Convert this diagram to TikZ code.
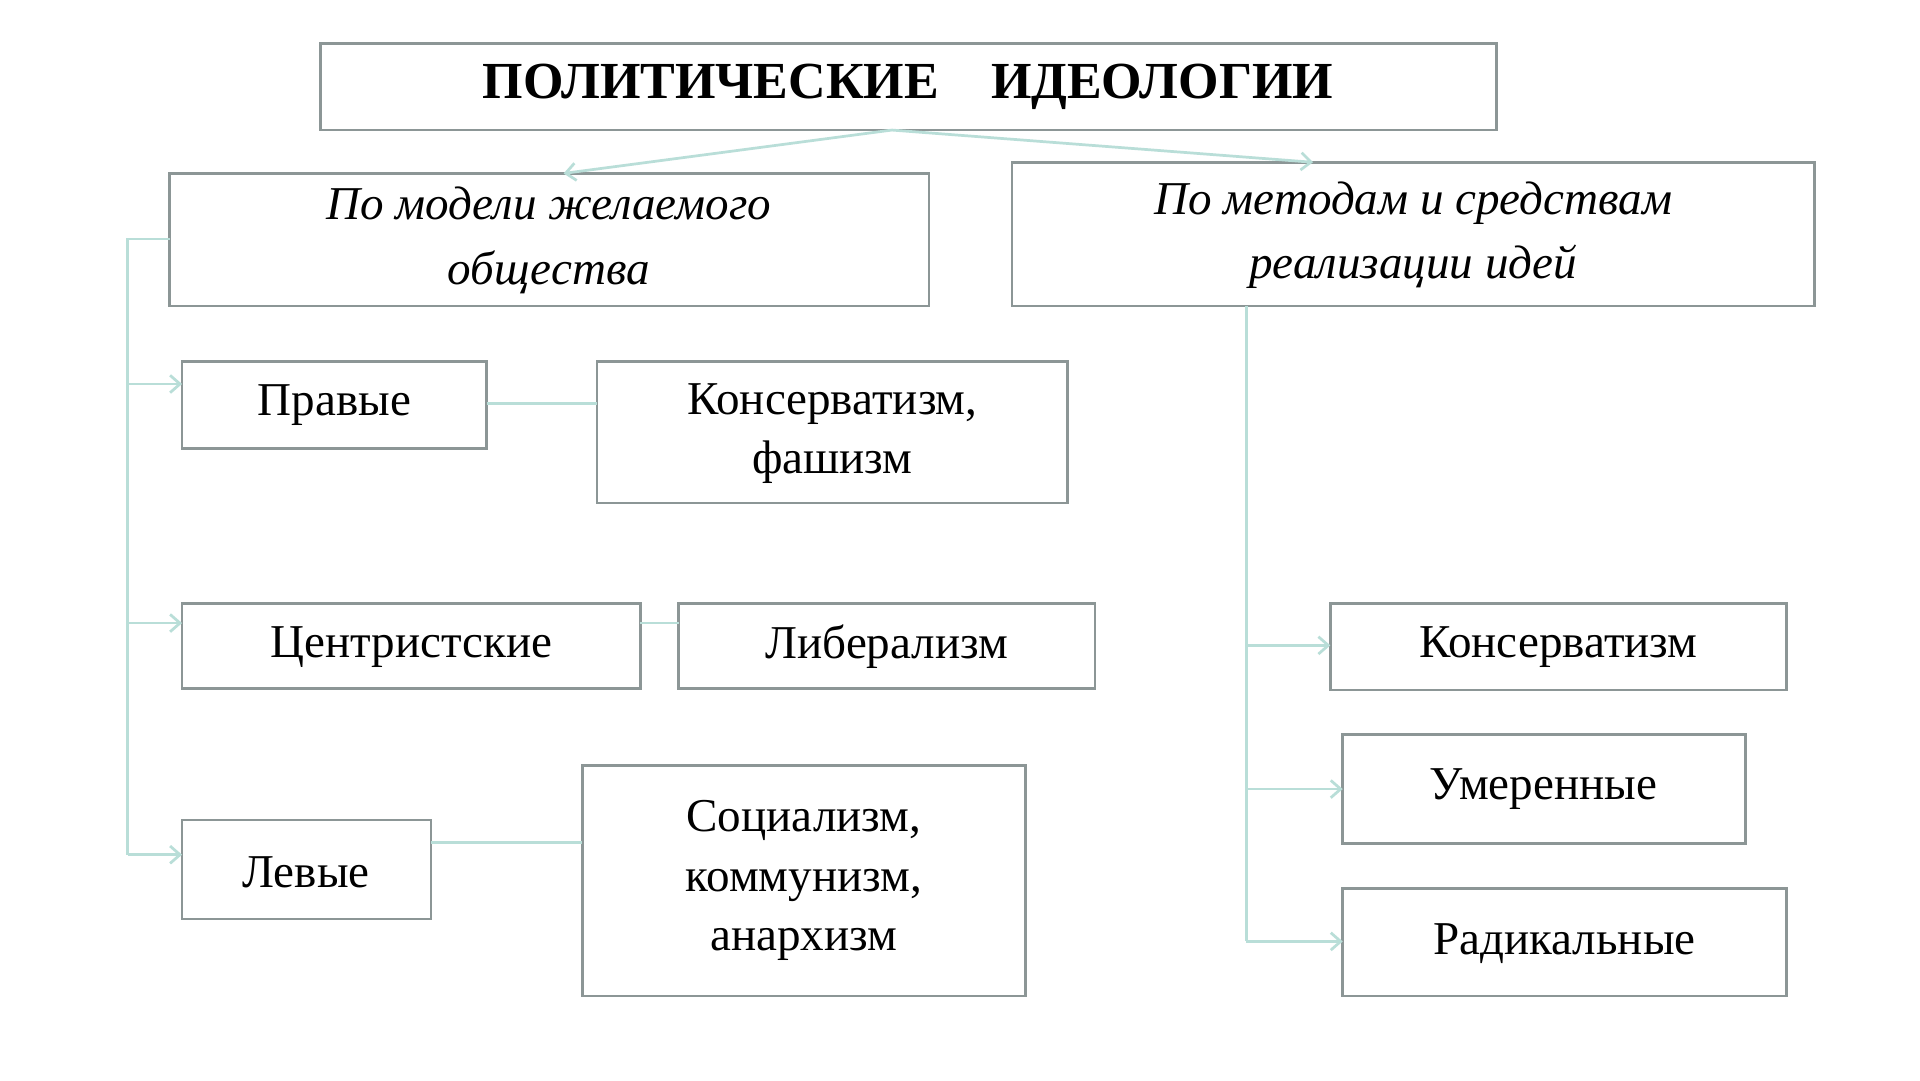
\documentclass[tikz,border=0pt]{standalone}
\usepackage{fontspec}
\setmainfont{Liberation Serif}
\usetikzlibrary{arrows.meta}
\definecolor{bx}{RGB}{140,150,150}
\definecolor{ln}{RGB}{185,222,216}
\begin{document}
\begin{tikzpicture}[x=1pt,y=-1pt,
  box/.style={draw=bx,line width=2.2pt},
  tx/.style={font=\fontsize{38}{48}\selectfont,align=center},
  conn/.style={draw=ln,line width=2.2pt},
  arr/.style={conn,-{Straight Barb[length=8pt,width=14pt]}}]
\useasboundingbox (0,0) rectangle (1550,872);
\fill[white] (0,0) rectangle (1550,872);
% boxes
\draw[box] (259,35) rectangle (1208,105); \node[tx,font=\bfseries\fontsize{42}{48}\selectfont] (t) at (733,70) {ПОЛИТИЧЕСКИЕ\quad ИДЕОЛОГИИ};
\coordinate (tb) at (720,105);
\draw[box] (137,140) rectangle (750,247); \node[tx,font=\itshape\fontsize{38}{52}\selectfont] (l) at (443,194) {По модели желаемого\\общества};
\draw[box] (817,131) rectangle (1465,247); \node[tx,font=\itshape\fontsize{38}{52}\selectfont] (r) at (1141,190) {По методам и средствам\\реализации идей};
\draw[box] (147,292) rectangle (393,362); \node[tx] (p) at (270,327) {Правые};
\draw[box] (482,292) rectangle (862,406); \node[tx] (pk) at (672,350) {Консерватизм,\\фашизм};
\draw[box] (147,487) rectangle (517,556); \node[tx] (c) at (332,522) {Центристские};
\draw[box] (548,487) rectangle (884,556); \node[tx] (cl) at (716,522) {Либерализм};
\draw[box] (147,662) rectangle (348,742); \node[tx] (lv) at (247,704) {Левые};
\draw[box] (470,618) rectangle (828,804); \node[tx] (ls) at (649,711) {Социализм,\\коммунизм,\\анархизм};
\draw[box] (1074,487) rectangle (1442,557); \node[tx] (k) at (1258,522) {Консерватизм};
\draw[box] (1084,593) rectangle (1409,681); \node[tx] (u) at (1246,637) {Умеренные};
\draw[box] (1084,717) rectangle (1442,804); \node[tx] (rd) at (1263,762) {Радикальные};
% connectors
\coordinate (la) at (455,140); \coordinate (ra) at (1060,131);
\draw[arr] (tb) -- (la);
\draw[arr] (tb) -- (ra);
\coordinate (lt) at (137,193); \coordinate (lb) at (103,690);
\draw[conn] (lt) -- (103,193) -- (lb);
\draw[arr] (103,310) -- (147,310);
\draw[arr] (103,503) -- (147,503);
\draw[arr] (lb) -- (147,690);
\draw[conn] (393,326) -- (482,326);
\draw[conn] (517,503) -- (548,503);
\draw[conn] (348,680) -- (470,680);
\coordinate (rt) at (1006,247);
\draw[conn] (rt) -- (1006,760);
\draw[arr] (1006,521) -- (1074,521);
\draw[arr] (1006,637) -- (1084,637);
\draw[arr] (1006,760) -- (1084,760);
\end{tikzpicture}
\end{document}
